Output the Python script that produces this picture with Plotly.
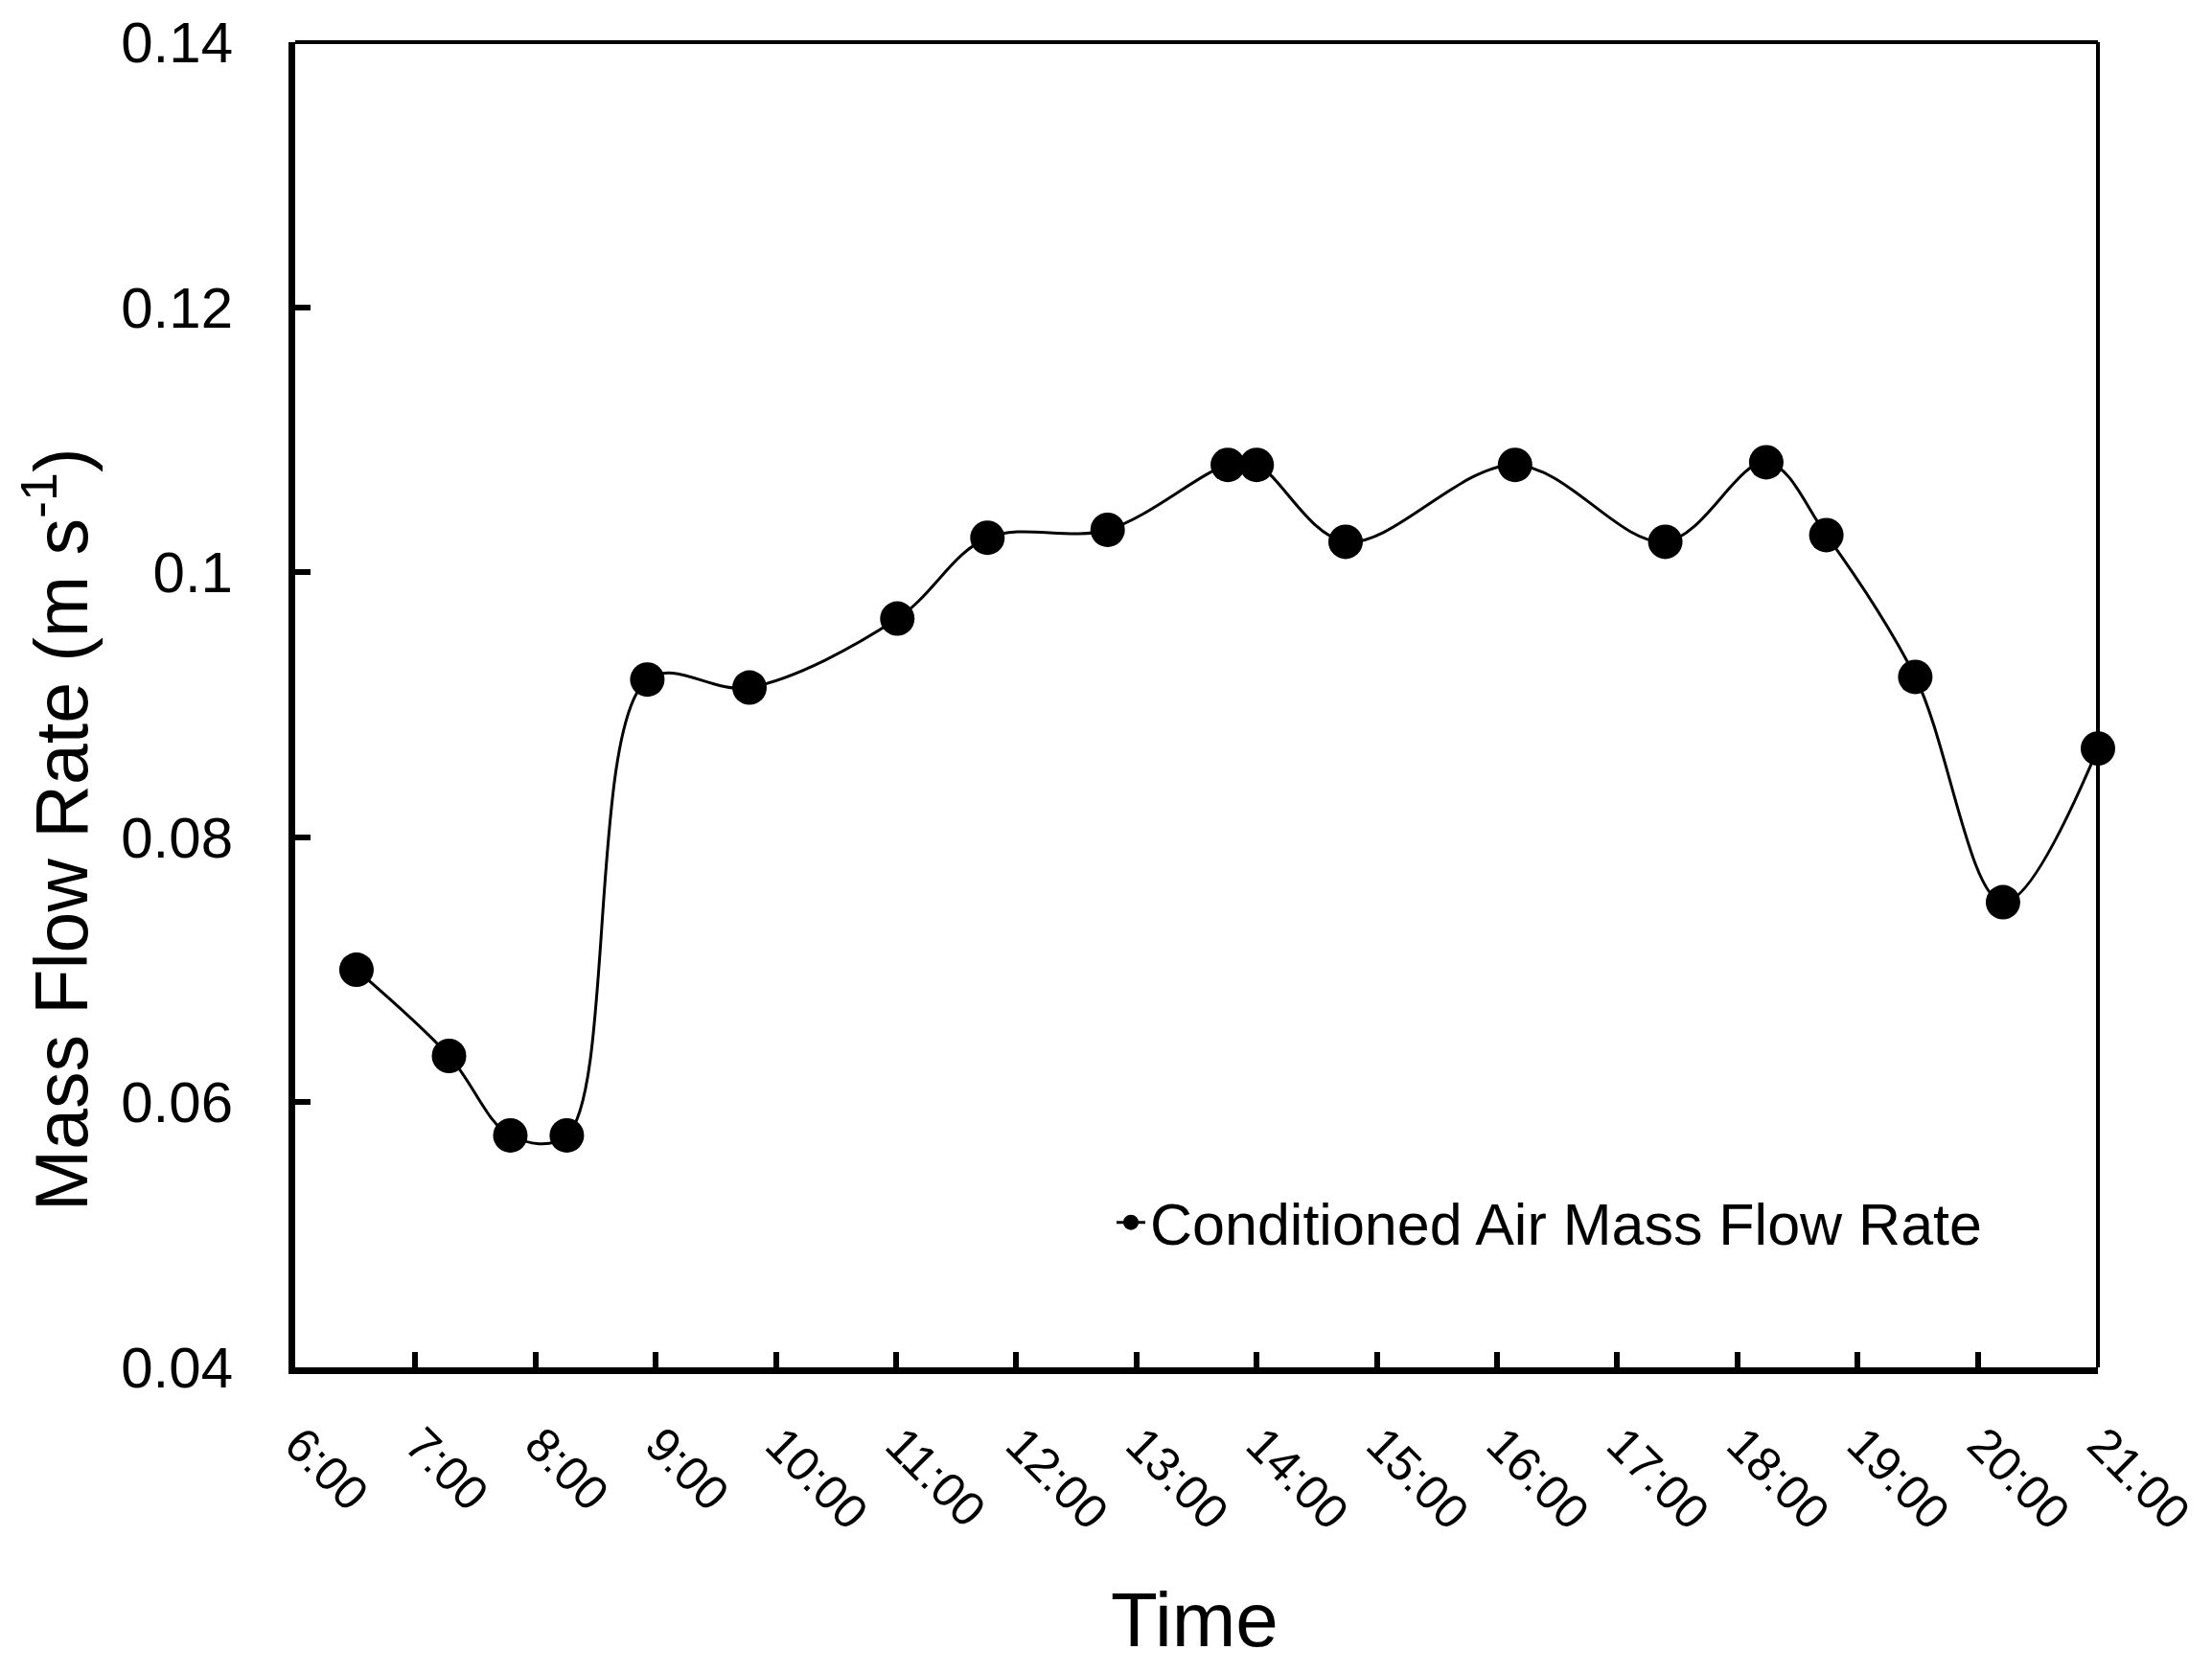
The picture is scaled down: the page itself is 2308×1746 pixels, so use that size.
import plotly.graph_objects as go

# decimal hours of day
time_hours = [6.51, 7.28, 7.79, 8.26, 8.93, 9.78, 11.01, 11.76, 12.76, 13.76, 14.0,
              14.74, 16.15, 17.40, 18.24, 18.74, 19.48, 20.21, 21.0]
mass_flow = [0.0700, 0.0635, 0.0575, 0.0575, 0.0919, 0.0913, 0.0965, 0.1026, 0.1032,
             0.1081, 0.1081, 0.1023, 0.1081, 0.1023, 0.1083, 0.1028, 0.0921, 0.0751, 0.0867]
tick_hours = list(range(6, 22))
tick_labels = [f"{h}:00" for h in tick_hours]
y_ticks = [0.04, 0.06, 0.08, 0.10, 0.12, 0.14]
y_tick_labels = ["0.04", "0.06", "0.08", "0.1", "0.12", "0.14"]
x_range = [6, 21]
y_range = [0.04, 0.14]

OFF = 8  # html body margin
W, H = 2308 - 2 * OFF, 1746 - 2 * OFF
PL, PR, PT, PB = 308, 2189, 44, 1427   # plot area in page pixels
L, T = PL - OFF, PT - OFF
R, B = W - (PR - OFF), H - (PB - OFF)
pw, ph = PR - PL, PB - PT


def px(xp):
    return (xp - PL) / pw


def py(yp):
    return (PB - yp) / ph


FONT = "Liberation Sans"

fig = go.Figure()
fig.add_trace(go.Scatter(
    x=time_hours, y=mass_flow, mode="lines+markers",
    name="Conditioned Air Mass Flow Rate",
    line=dict(color="black", width=3, shape="spline", smoothing=1.0),
    marker=dict(color="black", size=36, symbol="circle"),
    cliponaxis=False,
))

fig.update_layout(
    width=W, height=H,
    margin=dict(l=L, r=R, t=T, b=B, pad=0, autoexpand=False),
    paper_bgcolor="white", plot_bgcolor="white",
    font=dict(family=FONT, color="black"),
    showlegend=True,
    legend=dict(x=px(1160), y=py(1276), xanchor="left", yanchor="middle",
                font=dict(family=FONT, size=61, color="black"),
                bgcolor="rgba(0,0,0,0)", borderwidth=0),
    xaxis=dict(range=x_range, tickmode="array", tickvals=tick_hours, ticktext=tick_labels,
               tickangle=45, ticks="inside", ticklen=16, tickwidth=6, tickcolor="black",
               showline=True, linewidth=7, linecolor="black", showgrid=False, zeroline=False,
               tickfont=dict(family=FONT, size=50, color="black"), automargin=False,
               ticklabelstandoff=24, ticklabelshift=4, ticklabeloverflow="allow"),
    yaxis=dict(range=y_range, tickmode="array", tickvals=y_ticks, ticktext=y_tick_labels,
               ticks="inside", ticklen=16, tickwidth=6, tickcolor="black",
               showline=True, linewidth=7, linecolor="black", showgrid=False, zeroline=False,
               tickfont=dict(family=FONT, size=60, color="black"), ticklabelstandoff=46,
               automargin=False, ticklabeloverflow="allow"),
)

# thinner top and right frame lines
fig.add_shape(type="line", xref="paper", yref="paper", x0=0, x1=1, y0=1, y1=1,
              line=dict(color="black", width=4), layer="above")
fig.add_shape(type="line", xref="paper", yref="paper", x0=1, x1=1, y0=0, y1=1,
              line=dict(color="black", width=4), layer="below")

fig.add_annotation(text="Mass Flow Rate (m s<sup>-1</sup>)", textangle=-90,
                   xref="paper", yref="paper", x=px(58), y=py(866),
                   xanchor="center", yanchor="middle", showarrow=False,
                   font=dict(family=FONT, size=77, color="black"))
fig.add_annotation(text="Time", xref="paper", yref="paper", x=px(1246), y=py(1737),
                   xanchor="center", yanchor="bottom", showarrow=False,
                   font=dict(family=FONT, size=80, color="black"))

fig.write_html("out.html")
